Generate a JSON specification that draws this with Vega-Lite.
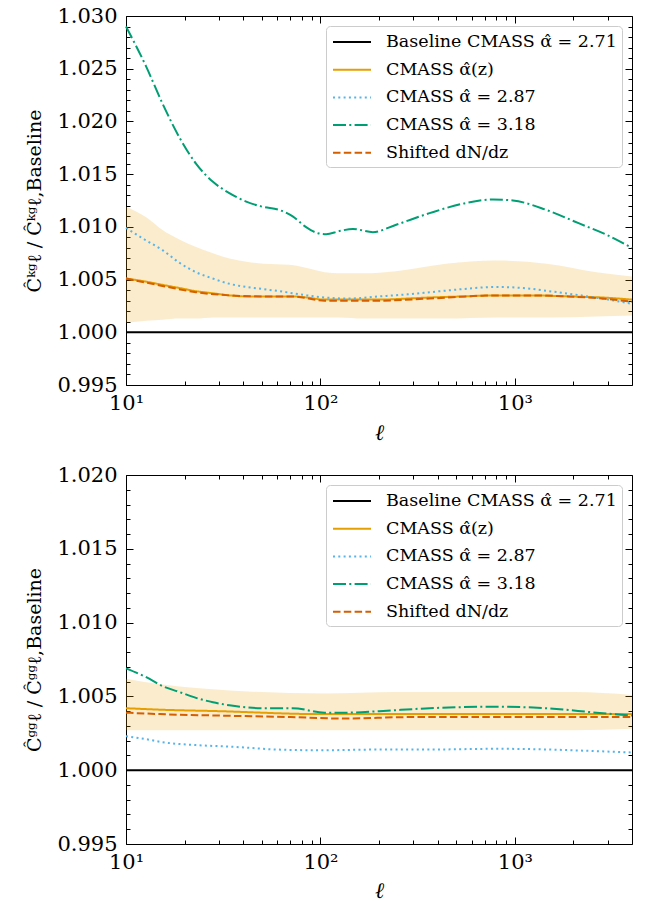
{
  "$schema": "https://vega.github.io/schema/vega-lite/v6.json",
  "padding": {"left": 25, "top": 5, "right": 5, "bottom": 5},
  "bounds": "flush",
  "spacing": 90,
  "config": {
    "font": "DejaVu Serif",
    "view": {"stroke": null},
    "axis": {"grid": false, "domainColor": "black", "domainWidth": 1, "tickColor": "black", "tickWidth": 1, "labelFont": "DejaVu Serif", "titleFont": "DejaVu Serif", "labelFontSize": 21, "labelColor": "black", "titleColor": "black", "titleFontWeight": "normal", "labelOverlap": false, "labelFlush": false, "labelBound": false},
    "legend": {"orient": "top-right", "offset": 10, "padding": 5, "strokeColor": "#cccccc", "cornerRadius": 4, "fillColor": "rgba(255,255,255,0.8)", "labelFont": "DejaVu Serif", "labelFontSize": 17.5, "labelColor": "black", "labelLimit": 400, "symbolType": "M-1.9,0H1.9", "symbolSize": 400, "symbolStrokeWidth": 2, "symbolOffset": 10, "labelOffset": 23, "rowPadding": 7.7}
  },
  "resolve": {"scale": {"color": "independent", "strokeDash": "independent"}},
  "datasets": {
    "kgband": [
      {"ell": 10, "lo": 1.0009, "hi": 1.0119}, {"ell": 12.7, "lo": 1.0011, "hi": 1.0109}, {"ell": 15.4, "lo": 1.0012, "hi": 1.0097}, {"ell": 18.8, "lo": 1.0013, "hi": 1.0088}, {"ell": 22.9, "lo": 1.0013, "hi": 1.0081}, {"ell": 28, "lo": 1.0014, "hi": 1.0075}, {"ell": 34, "lo": 1.0014, "hi": 1.0070}, {"ell": 41.5, "lo": 1.0014, "hi": 1.0067}, {"ell": 50.5, "lo": 1.0014, "hi": 1.0065}, {"ell": 69, "lo": 1.0014, "hi": 1.0064}, {"ell": 85, "lo": 1.0014, "hi": 1.0061}, {"ell": 105, "lo": 1.0014, "hi": 1.0057}, {"ell": 125, "lo": 1.0014, "hi": 1.0056}, {"ell": 166, "lo": 1.0013, "hi": 1.0056}, {"ell": 245, "lo": 1.0013, "hi": 1.0058}, {"ell": 443, "lo": 1.0013, "hi": 1.0065}, {"ell": 800, "lo": 1.0014, "hi": 1.0068}, {"ell": 1452, "lo": 1.0014, "hi": 1.0065}, {"ell": 2622, "lo": 1.0015, "hi": 1.0057}, {"ell": 4000, "lo": 1.0016, "hi": 1.0053}
    ],
    "ggband": [
      {"ell": 10, "lo": 1.0027, "hi": 1.0062}, {"ell": 15.4, "lo": 1.0027, "hi": 1.0058}, {"ell": 34, "lo": 1.0027, "hi": 1.0054}, {"ell": 105, "lo": 1.0027, "hi": 1.0052}, {"ell": 245, "lo": 1.0027, "hi": 1.0053}, {"ell": 800, "lo": 1.0027, "hi": 1.0053}, {"ell": 2000, "lo": 1.0027, "hi": 1.0053}, {"ell": 4000, "lo": 1.0028, "hi": 1.0051}
    ],
    "kg": [
      {"s": "Baseline CMASS \u03b1\u0302 = 2.71", "ell": 10, "v": 1.0}, {"s": "Baseline CMASS \u03b1\u0302 = 2.71", "ell": 4000, "v": 1.0},
      {"s": "CMASS \u03b1\u0302(z)", "ell": 10, "v": 1.0051}, {"s": "CMASS \u03b1\u0302(z)", "ell": 12.7, "v": 1.0048}, {"s": "CMASS \u03b1\u0302(z)", "ell": 15.4, "v": 1.0045}, {"s": "CMASS \u03b1\u0302(z)", "ell": 18.8, "v": 1.0042}, {"s": "CMASS \u03b1\u0302(z)", "ell": 22.9, "v": 1.0039}, {"s": "CMASS \u03b1\u0302(z)", "ell": 28, "v": 1.0037}, {"s": "CMASS \u03b1\u0302(z)", "ell": 34, "v": 1.0035}, {"s": "CMASS \u03b1\u0302(z)", "ell": 41.5, "v": 1.0034}, {"s": "CMASS \u03b1\u0302(z)", "ell": 50.5, "v": 1.0034}, {"s": "CMASS \u03b1\u0302(z)", "ell": 61.5, "v": 1.0034}, {"s": "CMASS \u03b1\u0302(z)", "ell": 72, "v": 1.0034}, {"s": "CMASS \u03b1\u0302(z)", "ell": 85, "v": 1.0033}, {"s": "CMASS \u03b1\u0302(z)", "ell": 105, "v": 1.0031}, {"s": "CMASS \u03b1\u0302(z)", "ell": 140, "v": 1.0031}, {"s": "CMASS \u03b1\u0302(z)", "ell": 200, "v": 1.0031}, {"s": "CMASS \u03b1\u0302(z)", "ell": 280, "v": 1.0032}, {"s": "CMASS \u03b1\u0302(z)", "ell": 364, "v": 1.0033}, {"s": "CMASS \u03b1\u0302(z)", "ell": 541, "v": 1.0034}, {"s": "CMASS \u03b1\u0302(z)", "ell": 800, "v": 1.0035}, {"s": "CMASS \u03b1\u0302(z)", "ell": 1200, "v": 1.0035}, {"s": "CMASS \u03b1\u0302(z)", "ell": 1890, "v": 1.0034}, {"s": "CMASS \u03b1\u0302(z)", "ell": 2800, "v": 1.0033}, {"s": "CMASS \u03b1\u0302(z)", "ell": 4000, "v": 1.0031},
      {"s": "CMASS \u03b1\u0302 = 2.87", "ell": 10, "v": 1.0099}, {"s": "CMASS \u03b1\u0302 = 2.87", "ell": 12.7, "v": 1.0087}, {"s": "CMASS \u03b1\u0302 = 2.87", "ell": 15.4, "v": 1.0078}, {"s": "CMASS \u03b1\u0302 = 2.87", "ell": 18.8, "v": 1.0066}, {"s": "CMASS \u03b1\u0302 = 2.87", "ell": 22.9, "v": 1.0057}, {"s": "CMASS \u03b1\u0302 = 2.87", "ell": 27.9, "v": 1.0051}, {"s": "CMASS \u03b1\u0302 = 2.87", "ell": 34, "v": 1.0046}, {"s": "CMASS \u03b1\u0302 = 2.87", "ell": 41.5, "v": 1.0043}, {"s": "CMASS \u03b1\u0302 = 2.87", "ell": 50.5, "v": 1.0041}, {"s": "CMASS \u03b1\u0302 = 2.87", "ell": 61.5, "v": 1.0039}, {"s": "CMASS \u03b1\u0302 = 2.87", "ell": 72, "v": 1.0037}, {"s": "CMASS \u03b1\u0302 = 2.87", "ell": 85, "v": 1.0035}, {"s": "CMASS \u03b1\u0302 = 2.87", "ell": 105, "v": 1.0033}, {"s": "CMASS \u03b1\u0302 = 2.87", "ell": 140, "v": 1.0032}, {"s": "CMASS \u03b1\u0302 = 2.87", "ell": 200, "v": 1.0034}, {"s": "CMASS \u03b1\u0302 = 2.87", "ell": 280, "v": 1.0036}, {"s": "CMASS \u03b1\u0302 = 2.87", "ell": 364, "v": 1.0038}, {"s": "CMASS \u03b1\u0302 = 2.87", "ell": 541, "v": 1.0041}, {"s": "CMASS \u03b1\u0302 = 2.87", "ell": 800, "v": 1.0043}, {"s": "CMASS \u03b1\u0302 = 2.87", "ell": 1100, "v": 1.0042}, {"s": "CMASS \u03b1\u0302 = 2.87", "ell": 1500, "v": 1.0039}, {"s": "CMASS \u03b1\u0302 = 2.87", "ell": 2000, "v": 1.0036}, {"s": "CMASS \u03b1\u0302 = 2.87", "ell": 2800, "v": 1.0032}, {"s": "CMASS \u03b1\u0302 = 2.87", "ell": 4000, "v": 1.0027},
      {"s": "CMASS \u03b1\u0302 = 3.18", "ell": 10, "v": 1.0290}, {"s": "CMASS \u03b1\u0302 = 3.18", "ell": 12.7, "v": 1.0252}, {"s": "CMASS \u03b1\u0302 = 3.18", "ell": 15.4, "v": 1.0217}, {"s": "CMASS \u03b1\u0302 = 3.18", "ell": 18.8, "v": 1.0185}, {"s": "CMASS \u03b1\u0302 = 3.18", "ell": 22.9, "v": 1.0160}, {"s": "CMASS \u03b1\u0302 = 3.18", "ell": 27.9, "v": 1.0143}, {"s": "CMASS \u03b1\u0302 = 3.18", "ell": 34, "v": 1.0132}, {"s": "CMASS \u03b1\u0302 = 3.18", "ell": 41.5, "v": 1.0124}, {"s": "CMASS \u03b1\u0302 = 3.18", "ell": 50.5, "v": 1.0119}, {"s": "CMASS \u03b1\u0302 = 3.18", "ell": 61.5, "v": 1.0116}, {"s": "CMASS \u03b1\u0302 = 3.18", "ell": 72, "v": 1.0110}, {"s": "CMASS \u03b1\u0302 = 3.18", "ell": 84, "v": 1.0100}, {"s": "CMASS \u03b1\u0302 = 3.18", "ell": 97, "v": 1.0094}, {"s": "CMASS \u03b1\u0302 = 3.18", "ell": 107, "v": 1.0093}, {"s": "CMASS \u03b1\u0302 = 3.18", "ell": 125, "v": 1.0096}, {"s": "CMASS \u03b1\u0302 = 3.18", "ell": 147, "v": 1.0098}, {"s": "CMASS \u03b1\u0302 = 3.18", "ell": 186, "v": 1.0095}, {"s": "CMASS \u03b1\u0302 = 3.18", "ell": 245, "v": 1.0102}, {"s": "CMASS \u03b1\u0302 = 3.18", "ell": 364, "v": 1.0113}, {"s": "CMASS \u03b1\u0302 = 3.18", "ell": 541, "v": 1.0122}, {"s": "CMASS \u03b1\u0302 = 3.18", "ell": 771, "v": 1.0126}, {"s": "CMASS \u03b1\u0302 = 3.18", "ell": 977, "v": 1.0125}, {"s": "CMASS \u03b1\u0302 = 3.18", "ell": 1452, "v": 1.0116}, {"s": "CMASS \u03b1\u0302 = 3.18", "ell": 2155, "v": 1.0103}, {"s": "CMASS \u03b1\u0302 = 3.18", "ell": 3000, "v": 1.0092}, {"s": "CMASS \u03b1\u0302 = 3.18", "ell": 4000, "v": 1.0080},
      {"s": "Shifted dN/dz", "ell": 10, "v": 1.0051}, {"s": "Shifted dN/dz", "ell": 15.4, "v": 1.0044}, {"s": "Shifted dN/dz", "ell": 22.9, "v": 1.0038}, {"s": "Shifted dN/dz", "ell": 34, "v": 1.0035}, {"s": "Shifted dN/dz", "ell": 50.5, "v": 1.0034}, {"s": "Shifted dN/dz", "ell": 72, "v": 1.0034}, {"s": "Shifted dN/dz", "ell": 105, "v": 1.0030}, {"s": "Shifted dN/dz", "ell": 140, "v": 1.0030}, {"s": "Shifted dN/dz", "ell": 200, "v": 1.0030}, {"s": "Shifted dN/dz", "ell": 364, "v": 1.0032}, {"s": "Shifted dN/dz", "ell": 800, "v": 1.0035}, {"s": "Shifted dN/dz", "ell": 1200, "v": 1.0035}, {"s": "Shifted dN/dz", "ell": 1890, "v": 1.0034}, {"s": "Shifted dN/dz", "ell": 2800, "v": 1.0032}, {"s": "Shifted dN/dz", "ell": 4000, "v": 1.0029}
    ],
    "gg": [
      {"s": "Baseline CMASS \u03b1\u0302 = 2.71", "ell": 10, "v": 1.0}, {"s": "Baseline CMASS \u03b1\u0302 = 2.71", "ell": 4000, "v": 1.0},
      {"s": "CMASS \u03b1\u0302(z)", "ell": 10, "v": 1.0042}, {"s": "CMASS \u03b1\u0302(z)", "ell": 15, "v": 1.0041}, {"s": "CMASS \u03b1\u0302(z)", "ell": 30, "v": 1.0040}, {"s": "CMASS \u03b1\u0302(z)", "ell": 100, "v": 1.0038}, {"s": "CMASS \u03b1\u0302(z)", "ell": 300, "v": 1.0038}, {"s": "CMASS \u03b1\u0302(z)", "ell": 1000, "v": 1.0038}, {"s": "CMASS \u03b1\u0302(z)", "ell": 4000, "v": 1.0038},
      {"s": "CMASS \u03b1\u0302 = 2.87", "ell": 10, "v": 1.0023}, {"s": "CMASS \u03b1\u0302 = 2.87", "ell": 12.7, "v": 1.0021}, {"s": "CMASS \u03b1\u0302 = 2.87", "ell": 15.4, "v": 1.0019}, {"s": "CMASS \u03b1\u0302 = 2.87", "ell": 22.9, "v": 1.0017}, {"s": "CMASS \u03b1\u0302 = 2.87", "ell": 34, "v": 1.0016}, {"s": "CMASS \u03b1\u0302 = 2.87", "ell": 60, "v": 1.0014}, {"s": "CMASS \u03b1\u0302 = 2.87", "ell": 100, "v": 1.00135}, {"s": "CMASS \u03b1\u0302 = 2.87", "ell": 200, "v": 1.0014}, {"s": "CMASS \u03b1\u0302 = 2.87", "ell": 364, "v": 1.0014}, {"s": "CMASS \u03b1\u0302 = 2.87", "ell": 800, "v": 1.00145}, {"s": "CMASS \u03b1\u0302 = 2.87", "ell": 1500, "v": 1.0014}, {"s": "CMASS \u03b1\u0302 = 2.87", "ell": 2500, "v": 1.0013}, {"s": "CMASS \u03b1\u0302 = 2.87", "ell": 4000, "v": 1.0012},
      {"s": "CMASS \u03b1\u0302 = 3.18", "ell": 10, "v": 1.0069}, {"s": "CMASS \u03b1\u0302 = 3.18", "ell": 12.7, "v": 1.0063}, {"s": "CMASS \u03b1\u0302 = 3.18", "ell": 15.4, "v": 1.0057}, {"s": "CMASS \u03b1\u0302 = 3.18", "ell": 18.8, "v": 1.0053}, {"s": "CMASS \u03b1\u0302 = 3.18", "ell": 22.9, "v": 1.0049}, {"s": "CMASS \u03b1\u0302 = 3.18", "ell": 28, "v": 1.0046}, {"s": "CMASS \u03b1\u0302 = 3.18", "ell": 34, "v": 1.0044}, {"s": "CMASS \u03b1\u0302 = 3.18", "ell": 50.5, "v": 1.0042}, {"s": "CMASS \u03b1\u0302 = 3.18", "ell": 72, "v": 1.0042}, {"s": "CMASS \u03b1\u0302 = 3.18", "ell": 105, "v": 1.0039}, {"s": "CMASS \u03b1\u0302 = 3.18", "ell": 140, "v": 1.0039}, {"s": "CMASS \u03b1\u0302 = 3.18", "ell": 201, "v": 1.0040}, {"s": "CMASS \u03b1\u0302 = 3.18", "ell": 364, "v": 1.0042}, {"s": "CMASS \u03b1\u0302 = 3.18", "ell": 800, "v": 1.0043}, {"s": "CMASS \u03b1\u0302 = 3.18", "ell": 1452, "v": 1.0042}, {"s": "CMASS \u03b1\u0302 = 3.18", "ell": 2622, "v": 1.0039}, {"s": "CMASS \u03b1\u0302 = 3.18", "ell": 4000, "v": 1.0037},
      {"s": "Shifted dN/dz", "ell": 10, "v": 1.0039}, {"s": "Shifted dN/dz", "ell": 15, "v": 1.0038}, {"s": "Shifted dN/dz", "ell": 30, "v": 1.0037}, {"s": "Shifted dN/dz", "ell": 70, "v": 1.0036}, {"s": "Shifted dN/dz", "ell": 130, "v": 1.0035}, {"s": "Shifted dN/dz", "ell": 300, "v": 1.0036}, {"s": "Shifted dN/dz", "ell": 1000, "v": 1.0036}, {"s": "Shifted dN/dz", "ell": 4000, "v": 1.0036}
    ]
  },
  "vconcat": [
    {
      "width": 506, "height": 369,
      "resolve": {"axis": {"x": "independent", "y": "independent"}},
      "layer": [
        {
          "data": {"name": "kgband"},
          "mark": {"type": "area", "color": "#E69F00", "opacity": 0.2, "interpolate": "monotone"},
          "encoding": {
            "x": {"field": "ell", "type": "quantitative", "scale": {"type": "log", "domain": [10, 4000], "nice": false},
              "axis": {"orient": "bottom", "values": [10,20,30,40,50,60,70,80,90,100,200,300,400,500,600,700,800,900,1000,2000,3000], "labelExpr": "datum.value == 10 ? '10\u00b9' : datum.value == 100 ? '10\u00b2' : datum.value == 1000 ? '10\u00b3' : ''", "tickSize": {"condition": {"test": "datum.value == 10 || datum.value == 100 || datum.value == 1000", "value": -7}, "value": -4}, "labelPadding": 14, "title": "\u2113", "titleFontStyle": "italic", "titleFontSize": 22, "titlePadding": 6}},
            "y": {"field": "lo", "type": "quantitative", "scale": {"domain": [0.995, 1.03], "nice": false, "zero": false},
              "axis": {"orient": "left", "values": [0.995,0.996,0.997,0.998,0.999,1.0,1.001,1.002,1.003,1.004,1.005,1.006,1.007,1.008,1.009,1.01,1.011,1.012,1.013,1.014,1.015,1.016,1.017,1.018,1.019,1.02,1.021,1.022,1.023,1.024,1.025,1.026,1.027,1.028,1.029,1.03], "labelExpr": "round(datum.value*1000) % 5 == 0 ? format(datum.value, '.3f') : ''", "tickSize": {"condition": {"test": "round(datum.value*1000) % 5 == 0", "value": -7}, "value": -4}, "labelPadding": 16, "title": "\u0108\u1d4f\u1d4d\u2113 / \u0108\u1d4f\u1d4d\u2113,Baseline", "titleFontSize": 19, "titlePadding": 12}},
            "y2": {"field": "hi"}
          }
        },
        {
          "data": {"name": "kg"},
          "mark": {"type": "line", "strokeWidth": 2, "interpolate": "monotone"},
          "encoding": {
            "x": {"field": "ell", "type": "quantitative",
              "axis": {"orient": "top", "values": [10,20,30,40,50,60,70,80,90,100,200,300,400,500,600,700,800,900,1000,2000,3000], "labels": false, "tickSize": {"condition": {"test": "datum.value == 10 || datum.value == 100 || datum.value == 1000", "value": -7}, "value": -4}, "title": null}},
            "y": {"field": "v", "type": "quantitative",
              "axis": {"orient": "right", "values": [0.995,0.996,0.997,0.998,0.999,1.0,1.001,1.002,1.003,1.004,1.005,1.006,1.007,1.008,1.009,1.01,1.011,1.012,1.013,1.014,1.015,1.016,1.017,1.018,1.019,1.02,1.021,1.022,1.023,1.024,1.025,1.026,1.027,1.028,1.029,1.03], "labels": false, "tickSize": {"condition": {"test": "round(datum.value*1000) % 5 == 0", "value": -7}, "value": -4}, "title": null}},
            "color": {"field": "s", "type": "nominal", "title": null,
              "scale": {"domain": ["Baseline CMASS \u03b1\u0302 = 2.71", "CMASS \u03b1\u0302(z)", "CMASS \u03b1\u0302 = 2.87", "CMASS \u03b1\u0302 = 3.18", "Shifted dN/dz"], "range": ["#000000", "#E69F00", "#56B4E9", "#009E73", "#D55E00"]}},
            "strokeDash": {"field": "s", "type": "nominal", "title": null,
              "scale": {"domain": ["Baseline CMASS \u03b1\u0302 = 2.71", "CMASS \u03b1\u0302(z)", "CMASS \u03b1\u0302 = 2.87", "CMASS \u03b1\u0302 = 3.18", "Shifted dN/dz"], "range": [[1, 0], [1, 0], [2, 3.3], [13, 3.3, 2, 3.3], [7.5, 3.3]]}}
          }
        }
      ]
    },
    {
      "width": 506, "height": 369,
      "resolve": {"axis": {"x": "independent", "y": "independent"}},
      "layer": [
        {
          "data": {"name": "ggband"},
          "mark": {"type": "area", "color": "#E69F00", "opacity": 0.2, "interpolate": "monotone"},
          "encoding": {
            "x": {"field": "ell", "type": "quantitative", "scale": {"type": "log", "domain": [10, 4000], "nice": false},
              "axis": {"orient": "bottom", "values": [10,20,30,40,50,60,70,80,90,100,200,300,400,500,600,700,800,900,1000,2000,3000], "labelExpr": "datum.value == 10 ? '10\u00b9' : datum.value == 100 ? '10\u00b2' : datum.value == 1000 ? '10\u00b3' : ''", "tickSize": {"condition": {"test": "datum.value == 10 || datum.value == 100 || datum.value == 1000", "value": -7}, "value": -4}, "labelPadding": 14, "title": "\u2113", "titleFontStyle": "italic", "titleFontSize": 22, "titlePadding": 5}},
            "y": {"field": "lo", "type": "quantitative", "scale": {"domain": [0.995, 1.02], "nice": false, "zero": false},
              "axis": {"orient": "left", "values": [0.995,0.996,0.997,0.998,0.999,1.0,1.001,1.002,1.003,1.004,1.005,1.006,1.007,1.008,1.009,1.01,1.011,1.012,1.013,1.014,1.015,1.016,1.017,1.018,1.019,1.02], "labelExpr": "round(datum.value*1000) % 5 == 0 ? format(datum.value, '.3f') : ''", "tickSize": {"condition": {"test": "round(datum.value*1000) % 5 == 0", "value": -7}, "value": -4}, "labelPadding": 16, "title": "\u0108\u1d4d\u1d4d\u2113 / \u0108\u1d4d\u1d4d\u2113,Baseline", "titleFontSize": 19, "titlePadding": 12}},
            "y2": {"field": "hi"}
          }
        },
        {
          "data": {"name": "gg"},
          "mark": {"type": "line", "strokeWidth": 2, "interpolate": "monotone"},
          "encoding": {
            "x": {"field": "ell", "type": "quantitative",
              "axis": {"orient": "top", "values": [10,20,30,40,50,60,70,80,90,100,200,300,400,500,600,700,800,900,1000,2000,3000], "labels": false, "tickSize": {"condition": {"test": "datum.value == 10 || datum.value == 100 || datum.value == 1000", "value": -7}, "value": -4}, "title": null}},
            "y": {"field": "v", "type": "quantitative",
              "axis": {"orient": "right", "values": [0.995,0.996,0.997,0.998,0.999,1.0,1.001,1.002,1.003,1.004,1.005,1.006,1.007,1.008,1.009,1.01,1.011,1.012,1.013,1.014,1.015,1.016,1.017,1.018,1.019,1.02], "labels": false, "tickSize": {"condition": {"test": "round(datum.value*1000) % 5 == 0", "value": -7}, "value": -4}, "title": null}},
            "color": {"field": "s", "type": "nominal", "title": null,
              "scale": {"domain": ["Baseline CMASS \u03b1\u0302 = 2.71", "CMASS \u03b1\u0302(z)", "CMASS \u03b1\u0302 = 2.87", "CMASS \u03b1\u0302 = 3.18", "Shifted dN/dz"], "range": ["#000000", "#E69F00", "#56B4E9", "#009E73", "#D55E00"]}},
            "strokeDash": {"field": "s", "type": "nominal", "title": null,
              "scale": {"domain": ["Baseline CMASS \u03b1\u0302 = 2.71", "CMASS \u03b1\u0302(z)", "CMASS \u03b1\u0302 = 2.87", "CMASS \u03b1\u0302 = 3.18", "Shifted dN/dz"], "range": [[1, 0], [1, 0], [2, 3.3], [13, 3.3, 2, 3.3], [7.5, 3.3]]}}
          }
        }
      ]
    }
  ]
}
